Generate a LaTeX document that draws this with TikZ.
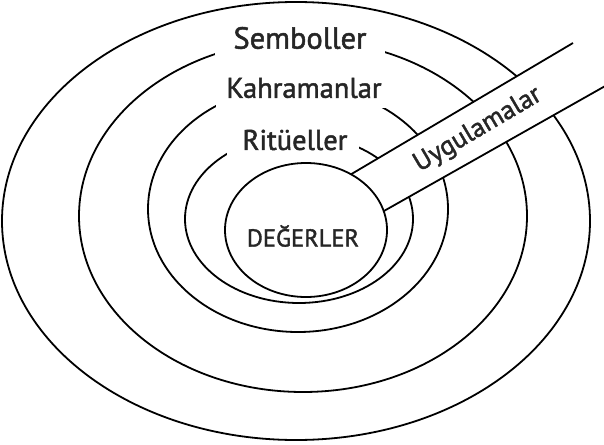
\documentclass[tikz,border=0pt]{standalone}
\usepackage{fontspec}
\setmainfont{PT Sans}
\newfontfamily\lblfont[FakeBold=1.6]{PT Sans}
\usetikzlibrary{shapes.geometric,calc}
\begin{document}
\begin{tikzpicture}[x=1pt,y=-1pt,
  ring/.style={draw, ellipse, line width=1.8pt, inner sep=0pt, outer sep=0pt},
  gapbox/.style={fill=white, inner sep=0pt},
  lbl/.style={font=\lblfont\fontsize{29}{34}\selectfont, text=black!85},
  barline/.style={line width=1.8pt}]
\useasboundingbox (0,0) rectangle (604,444);
\clip (0,0) rectangle (604,444);
% rings
\node[ring, minimum width=588, minimum height=438] (outer) at (296,221) {};
\node[ring, minimum width=448, minimum height=352] (sym) at (303,216) {};
\node[ring, minimum width=300, minimum height=246] (hero) at (298,209) {};
\node[ring, minimum width=228, minimum height=168] (rit) at (299,219) {};
% bar (Uygulamalar)
\coordinate (ub) at (316,195);
\coordinate (ue) at (573,43);
\coordinate (lb) at (345,233);
\coordinate (le) at (630,72);
\fill[white] (ub) -- ($(ub)!1.4!(ue)$) -- ($(lb)!1.2!(le)$) -- (lb) -- cycle;
\draw[barline] (ub) -- (ue);
\draw[barline] (lb) -- (le);
% label gaps
\node[gapbox, minimum width=170, minimum height=32] (semb) at (300,39) {};
\node[lbl, font=\lblfont\fontsize{30.5}{34}\selectfont] (sembt) at (300,38) {Semboller};
\node[gapbox, minimum width=172, minimum height=36] (kahr) at (302,90) {};
\node[lbl, font=\lblfont\fontsize{28.5}{34}\selectfont] (kahrt) at (304,88) {Kahramanlar};
\node[gapbox, minimum width=132, minimum height=30] (ritu) at (293,142) {};
\node[lbl, font=\lblfont\fontsize{28.5}{34}\selectfont] (ritut) at (295,140) {Ritüeller};
% core
\node[ring, fill=white, minimum width=162, minimum height=134] (deg) at (306,230) {};
\node[lbl, font=\lblfont\fontsize{24.5}{28}\selectfont] (degt) at (303,236) {DEĞERLER};
\node[lbl, font=\lblfont\fontsize{26.5}{30}\selectfont, rotate=30.5, inner sep=0pt] (uyg) at (478,130) {Uygulamalar};
\end{tikzpicture}
\end{document}
